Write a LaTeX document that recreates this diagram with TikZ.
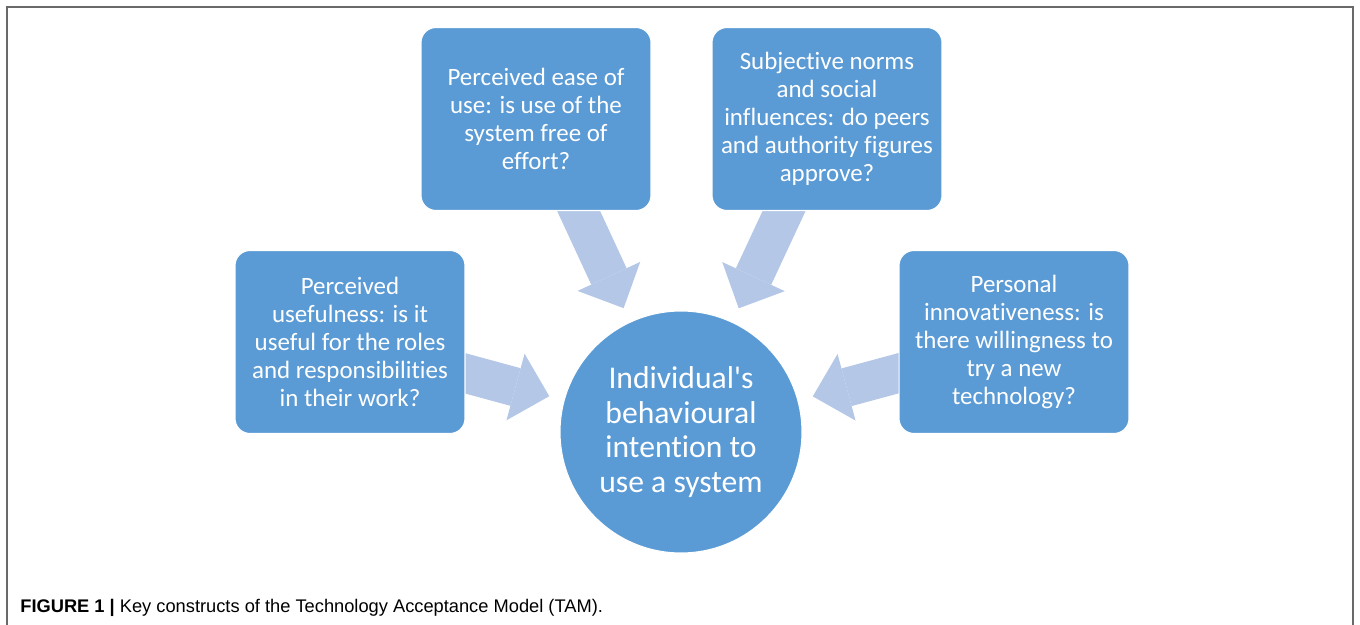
\documentclass[tikz,border=0pt]{standalone}
\usepackage{fontspec}
\setmainfont{Carlito}[Ligatures={NoCommon,TeXOff}]
\newfontfamily\capfont{Liberation Sans}
\usetikzlibrary{positioning,backgrounds,arrows.meta}

\definecolor{boxblue}{RGB}{91,155,213}
\definecolor{flowblue}{RGB}{180,199,231}
\definecolor{framegray}{RGB}{105,105,105}

\tikzset{
  factor/.style={fill=boxblue, draw=white, line width=0.6pt, rounded corners=0.3cm,
    minimum width=4.6cm, minimum height=3.66cm, inner sep=0pt,
    text=white, align=center, font=\fontsize{14.2}{15.9}\selectfont},
  intention/.style={circle, fill=boxblue, draw=white, line width=0.6pt,
    minimum size=4.84cm, inner sep=0pt,
    text=white, align=center, font=\fontsize{18}{19.6}\selectfont},
  push/.style={flowblue, line width=0.78cm,
    -{Triangle[length=0.7cm, width=1.38cm, line width=0pt]}, shorten >=0.3cm}
}

\begin{document}
\begin{tikzpicture}[x=0.02cm, y=-0.02cm]
    \useasboundingbox (0,0) rectangle (1360,625);
    \draw[framegray, line width=0.8pt] (7,625) -- (7,7) -- (1353,7) -- (1353,625);

    % the four constructs and the intention they feed
    \node[intention] (intent) at (681,432) {Individual's\\behavioural\\intention to\\use a system};
    \node[factor] (useful) at (350,342) {Perceived\\usefulness: is it\\useful for the roles\\and responsibilities\\in their work?};
    \node[factor] (ease) at (536,119) {Perceived ease of\\use: is use of the\\system free of\\effort?};
    \node[factor] (norms) at (827,119) {Subjective norms\\and social\\influences: do peers\\and authority figures\\approve?};
    \node[factor] (innov) at (1014,342) {Personal\\innovativeness: is\\there willingness to\\try a new\\technology?};

    % block arrows sit behind the boxes
    \begin{scope}[on background layer]
        \foreach \src in {useful,ease,norms,innov}
            \draw[push] (\src.center) -- (intent);
    \end{scope}

    \node[anchor=base west, inner sep=0pt, font=\capfont\fontsize{10.4}{12}\selectfont] (caption) at (20,612)
        {\textbf{FIGURE 1 |} Key constructs of the Technology Acceptance Model (TAM).};
\end{tikzpicture}
\end{document}
